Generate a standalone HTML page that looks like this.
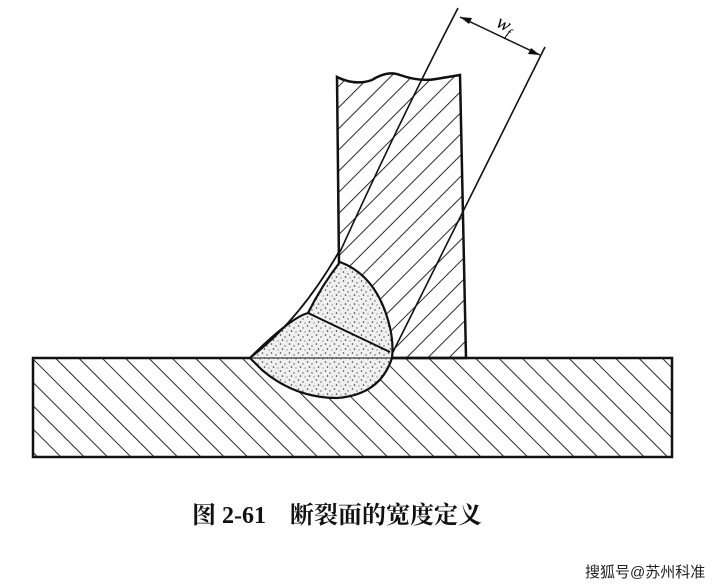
<!DOCTYPE html>
<html><head><meta charset="utf-8"><style>
html,body{margin:0;padding:0;background:#fff;}
svg{display:block}
</style></head><body>
<svg width="723" height="588" viewBox="0 0 723 588" xmlns="http://www.w3.org/2000/svg">
<defs>
<pattern id="hb" patternUnits="userSpaceOnUse" width="16.5" height="16.5" patternTransform="rotate(-45)">
<line x1="0" y1="0" x2="0" y2="16.5" stroke="#111" stroke-width="1.8"/>
</pattern>
<pattern id="hv" patternUnits="userSpaceOnUse" width="15" height="15" patternTransform="rotate(45)">
<line x1="0" y1="0" x2="0" y2="15" stroke="#111" stroke-width="1.8"/>
</pattern>
<pattern id="dots" patternUnits="userSpaceOnUse" width="9" height="9">
<rect width="9" height="9" fill="#f0f0f0"/>
<circle cx="1.5" cy="2" r="0.8" fill="#444"/>
<circle cx="6" cy="4" r="0.7" fill="#555"/>
<circle cx="3.5" cy="7" r="0.8" fill="#333"/>
<circle cx="8" cy="8" r="0.6" fill="#666"/>
</pattern>
</defs>
<rect x="33" y="358" width="639" height="99" fill="url(#hb)" stroke="#111" stroke-width="2.5"/>
<path d="M337,77 Q355,86 372,80 Q388,70 400,75 Q420,82 436,79 L460,75 L466,358 L340,358 Z" fill="url(#hv)" stroke="#111" stroke-width="2.5"/>
<path d="M250,358 Q290,318 308,313 Q322,285 340,262 Q375,275 388,320 Q394,340 392,358 Q380,395 337,398 Q295,398 262,370 Z" fill="url(#dots)" stroke="#111" stroke-width="2.2"/>
<path d="M308,313 L390,352" stroke="#111" stroke-width="2" fill="none"/>
<path d="M250,358 Q300,320 340,250" stroke="#111" stroke-width="1.8" fill="none"/>
<path d="M250,358 L392,358" stroke="#111" stroke-width="1" fill="none"/>
<path d="M458,8 Q400,120 340,252" stroke="#111" stroke-width="1.6" fill="none"/>
<path d="M545,47 L392,354" stroke="#111" stroke-width="1.6" fill="none"/>
<line x1="460" y1="17" x2="540" y2="55" stroke="#111" stroke-width="1.5"/>
<path d="M460,17 l12,1 l-3,6 z M540,55 l-12,-1 l3,-6 z" fill="#111"/>
<text x="495" y="30" font-family="Liberation Serif, serif" font-style="italic" font-size="20" transform="rotate(27 503 28)">w<tspan font-size="13" dy="4">f</tspan></text>
<text x="192" y="523" font-family="Liberation Serif, 'Noto Serif CJK SC', serif" font-size="24" font-weight="bold" fill="#111">图 2-61　断裂面的宽度定义</text>
<text x="585" y="577" font-family="Liberation Sans, 'Noto Sans CJK SC', sans-serif" font-size="15" fill="#222">搜狐号@苏州科准</text>
</svg>
</body></html>
